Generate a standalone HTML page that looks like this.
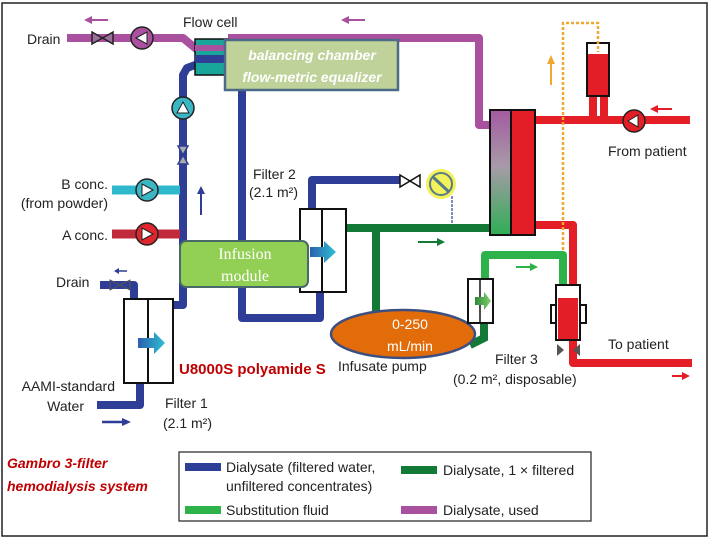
<!DOCTYPE html>
<html><head><meta charset="utf-8"><style>
html,body{margin:0;padding:0;background:#fff;width:720px;height:540px;overflow:hidden}
svg{display:block}
text{font-family:"Liberation Sans",sans-serif;fill:#222}
</style></head><body>
<svg width="720" height="540" viewBox="0 0 720 540" xmlns="http://www.w3.org/2000/svg">
<defs>
<linearGradient id="dz" x1="0" y1="0" x2="0" y2="1"><stop offset="0" stop-color="#a35aa0"/><stop offset="0.45" stop-color="#a89aa8"/><stop offset="1" stop-color="#2fae55"/></linearGradient>
<linearGradient id="ar" x1="0" y1="0" x2="1" y2="0"><stop offset="0" stop-color="#2b5fb0"/><stop offset="1" stop-color="#2fc0d0"/></linearGradient>
<linearGradient id="ag" x1="0" y1="0" x2="1" y2="0"><stop offset="0" stop-color="#2f8a3a"/><stop offset="1" stop-color="#7fcf6f"/></linearGradient>
</defs>
<rect x="2" y="3" width="705" height="533" fill="none" stroke="#222" stroke-width="1.5"/>

<!-- purple pipes -->
<g fill="none" stroke="#a9519f" stroke-width="8" stroke-linejoin="round">
<polyline points="67,38 183,38 200,52"/>
<polyline points="228,38 479,38 479,125 492,125"/>
</g>
<line x1="88" y1="20" x2="108" y2="20" stroke="#a9519f" stroke-width="2"/><polygon points="84,20 92,16 92,24" fill="#a9519f"/>
<line x1="345" y1="20" x2="365" y2="20" stroke="#a9519f" stroke-width="2"/><polygon points="341,20 349,16 349,24" fill="#a9519f"/>
<text x="27" y="44" font-size="14">Drain</text>
<text x="183" y="27" font-size="14">Flow cell</text>
<!-- valve top -->
<polygon points="92,32 113,44 113,32 92,44" fill="#9a6f9a" stroke="#222" stroke-width="1.5"/>
<circle cx="142" cy="38" r="11" fill="#a9519f" stroke="#222" stroke-width="1.5"/><polygon points="136,38 147,32 147,44" fill="#fff" stroke="#222"/>

<!-- navy pipes -->
<g fill="none" stroke="#2e3d95" stroke-width="8" stroke-linejoin="round">
<polyline points="198,64 187,68 183,75 183,305 174,305"/>
<polyline points="100,285 134,285 134,298"/>
<polyline points="97,405 140,405 140,383"/>
<polyline points="242,88 242,318 320,318 320,292"/>
<polyline points="312,210 312,180 400,180"/>
</g>
<!-- flow cell -->
<rect x="195" y="39" width="33" height="36" fill="#1aa59a" stroke="#111" stroke-width="1.5"/>
<rect x="195" y="45" width="33" height="6" fill="#a9519f"/><rect x="195" y="55" width="33" height="8" fill="#2e3d95"/>
<!-- balancing box -->
<rect x="225" y="40" width="173" height="50" fill="#bfd29a" stroke="#4d6a86" stroke-width="2.5"/>
<text x="312" y="60" font-size="14" text-anchor="middle" font-style="italic" font-weight="bold" style="fill:#fff">balancing chamber</text>
<text x="312" y="82" font-size="14" text-anchor="middle" font-style="italic" font-weight="bold" style="fill:#fff">flow-metric equalizer</text>

<!-- pump & valve on vertical -->
<circle cx="183" cy="108" r="11" fill="#3bb6c4" stroke="#222" stroke-width="1.5"/><polygon points="183,102 177,113 189,113" fill="#fff" stroke="#222"/>
<polygon points="178,146 188,146 178,164 188,164" fill="#aaa" stroke="#2e3d95" stroke-width="1.5"/>
<line x1="201" y1="215" x2="201" y2="192" stroke="#2e3d95" stroke-width="2"/><polygon points="201,186 197,194 205,194" fill="#2e3d95"/>

<!-- conc -->
<line x1="112" y1="190" x2="180" y2="190" stroke="#2fb8cc" stroke-width="9"/>
<circle cx="147" cy="190" r="11" fill="#3bb6c4" stroke="#222" stroke-width="1.5"/><polygon points="153,190 142,184 142,196" fill="#fff" stroke="#222"/>
<line x1="112" y1="234" x2="180" y2="234" stroke="#c02a3a" stroke-width="9"/>
<circle cx="147" cy="234" r="11" fill="#e0262d" stroke="#222" stroke-width="1.5"/><polygon points="153,234 142,228 142,240" fill="#fff" stroke="#222"/>
<text x="108" y="189" font-size="14" text-anchor="end">B conc.</text>
<text x="108" y="208" font-size="14" text-anchor="end">(from powder)</text>
<text x="108" y="240" font-size="14" text-anchor="end">A conc.</text>

<!-- drain bottom -->
<text x="56" y="287" font-size="14">Drain</text>
<polygon points="110,280 130,290 130,280 110,290" fill="#2e3d95" stroke="#555"/>
<line x1="118" y1="271" x2="127" y2="271" stroke="#2e3d95" stroke-width="1.5"/><polygon points="114,271 119,268 119,274" fill="#2e3d95"/>

<!-- filter 1 -->
<rect x="124" y="299" width="49" height="84" fill="#fff" stroke="#111" stroke-width="2"/>
<line x1="148" y1="299" x2="148" y2="383" stroke="#111" stroke-width="2"/>
<polygon points="138,338 154,338 154,332 165,343 154,354 154,348 138,348" fill="url(#ar)"/>
<text x="115" y="391" font-size="14" text-anchor="end">AAMI-standard</text>
<text x="84" y="411" font-size="14" text-anchor="end">Water</text>
<line x1="102" y1="422" x2="124" y2="422" stroke="#2e3d95" stroke-width="2.5"/><polygon points="131,422 122,418 122,426" fill="#2e3d95"/>
<text x="165" y="408" font-size="14">Filter 1</text>
<text x="163" y="428" font-size="14">(2.1 m²)</text>

<!-- dark green pipes -->
<g fill="none" stroke="#127a36" stroke-width="8">
<line x1="346" y1="228" x2="492" y2="228"/>
<line x1="376" y1="228" x2="376" y2="316"/>
<polyline points="470,345 484,338 484,323"/>
</g>
<line x1="418" y1="242" x2="438" y2="242" stroke="#127a36" stroke-width="2"/><polygon points="445,242 437,238 437,246" fill="#127a36"/>

<!-- filter 2 -->
<rect x="300" y="209" width="46" height="83" fill="#fff" stroke="#111" stroke-width="2"/>
<line x1="322" y1="209" x2="322" y2="292" stroke="#111" stroke-width="2"/>
<text x="253" y="179" font-size="14">Filter 2</text>
<text x="249" y="197" font-size="14">(2.1 m²)</text>
<!-- valve + sensor -->
<polygon points="400,175 420,187 420,175 400,187" fill="#fff" stroke="#111" stroke-width="1.5"/>
<line x1="452" y1="196" x2="452" y2="224" stroke="#2e3d95" stroke-width="1.2" stroke-dasharray="3,1"/>
<circle cx="441" cy="184" r="15" fill="#f2f25a"/><circle cx="441" cy="184" r="11" fill="none" stroke="#5a7a8a" stroke-width="2"/>
<line x1="433" y1="177" x2="449" y2="192" stroke="#5a7a8a" stroke-width="3"/>

<!-- infusion module -->
<rect x="180" y="241" width="128" height="46" rx="6" fill="#92cf55" stroke="#4a6a6a" stroke-width="2"/>
<text x="245" y="259" font-size="16" text-anchor="middle" style="fill:#fff;font-family:'Liberation Serif',serif">Infusion</text>
<text x="245" y="281" font-size="16" text-anchor="middle" style="fill:#fff;font-family:'Liberation Serif',serif">module</text>
<polygon points="310,247 324,247 324,241 336,252 324,263 324,257 310,257" fill="url(#ar)"/>

<!-- infusate pump -->
<ellipse cx="403" cy="334" rx="72" ry="24" fill="#e36c0a" stroke="#3d4f80" stroke-width="2.5"/>
<text x="410" y="329" font-size="14" text-anchor="middle" style="fill:#fff">0-250</text>
<text x="410" y="351" font-size="14" text-anchor="middle" style="fill:#fff">mL/min</text>
<text x="338" y="371" font-size="14">Infusate pump</text>
<text x="179" y="374" font-size="15" font-weight="bold" style="fill:#c00000">U8000S  polyamide S</text>

<!-- substitution fluid -->
<polyline points="485,280 485,255 563,255 563,292" fill="none" stroke="#2db34a" stroke-width="8" stroke-linejoin="round"/>
<line x1="516" y1="267" x2="532" y2="267" stroke="#2db34a" stroke-width="2"/><polygon points="538,267 530,263 530,271" fill="#2db34a"/>
<rect x="468" y="279" width="25" height="44" fill="#fff" stroke="#111" stroke-width="2"/>
<line x1="480" y1="279" x2="480" y2="323" stroke="#111" stroke-width="1.5"/>
<polygon points="475,297 484,297 484,292 491,301 484,310 484,305 475,305" fill="url(#ag)"/>

<!-- red pipes -->
<g fill="none" stroke="#e31e26" stroke-width="8" stroke-linejoin="round">
<line x1="535" y1="120" x2="690" y2="120"/>
<polyline points="535,225 573,225 573,363 692,363"/>
<line x1="593" y1="95" x2="593" y2="120"/><line x1="604" y1="95" x2="604" y2="120"/>
</g>
<circle cx="634" cy="121" r="11" fill="#e31e26" stroke="#222" stroke-width="1.5"/><polygon points="628,121 638,115 638,127" fill="#fff" stroke="#222"/>
<rect x="587" y="43" width="22" height="53" fill="#fff" stroke="#111" stroke-width="2"/>
<rect x="588" y="54" width="20" height="41" fill="#e31e26"/>
<line x1="656" y1="109" x2="672" y2="109" stroke="#e31e26" stroke-width="2"/><polygon points="650,109 658,105 658,113" fill="#e31e26"/>
<line x1="672" y1="376" x2="684" y2="376" stroke="#e31e26" stroke-width="2"/><polygon points="690,376 682,372 682,380" fill="#e31e26"/>
<text x="608" y="156" font-size="14">From patient</text>
<text x="608" y="349" font-size="14">To patient</text>

<!-- orange dotted -->
<polyline points="563,250 563,23 598,23 598,52" fill="none" stroke="#f0a830" stroke-width="2.5" stroke-dasharray="3,2"/>
<line x1="551" y1="85" x2="551" y2="62" stroke="#f0a830" stroke-width="2"/><polygon points="551,55 547,64 555,64" fill="#f0a830"/>

<!-- dialyzer -->
<rect x="490" y="110" width="21" height="125" fill="url(#dz)" stroke="#111" stroke-width="2"/>
<rect x="511" y="110" width="24" height="125" fill="#e31e26" stroke="#111" stroke-width="2"/>

<!-- small red filter -->
<rect x="551" y="305" width="35" height="18" fill="#fff" stroke="#111" stroke-width="2"/>
<rect x="556" y="285" width="24" height="55" fill="#fff" stroke="#111" stroke-width="2"/>
<rect x="558" y="298" width="20" height="41" fill="#e31e26"/>
<polygon points="557,344 557,356 564,350" fill="#555"/><polygon points="580,344 580,356 573,350" fill="#555"/>
<text x="495" y="364" font-size="14">Filter 3</text>
<text x="453" y="384" font-size="14">(0.2 m², disposable)</text>

<!-- title -->
<text x="7" y="468" font-size="14" font-weight="bold" font-style="italic" style="fill:#c00000">Gambro 3-filter</text>
<text x="7" y="491" font-size="14" font-weight="bold" font-style="italic" style="fill:#c00000">hemodialysis system</text>

<!-- legend -->
<rect x="179" y="452" width="412" height="69" fill="#fff" stroke="#222" stroke-width="1.2"/>
<rect x="185" y="463" width="36" height="8" fill="#2e3d95"/>
<text x="226" y="472" font-size="14">Dialysate (filtered water,</text>
<text x="226" y="491" font-size="14">unfiltered concentrates)</text>
<rect x="185" y="506" width="36" height="8" fill="#2db34a"/>
<text x="226" y="515" font-size="14">Substitution fluid</text>
<rect x="401" y="466" width="36" height="8" fill="#127a36"/>
<text x="443" y="475" font-size="14">Dialysate, 1 × filtered</text>
<rect x="401" y="506" width="36" height="8" fill="#a9519f"/>
<text x="443" y="515" font-size="14">Dialysate, used</text>
</svg>
</body></html>
